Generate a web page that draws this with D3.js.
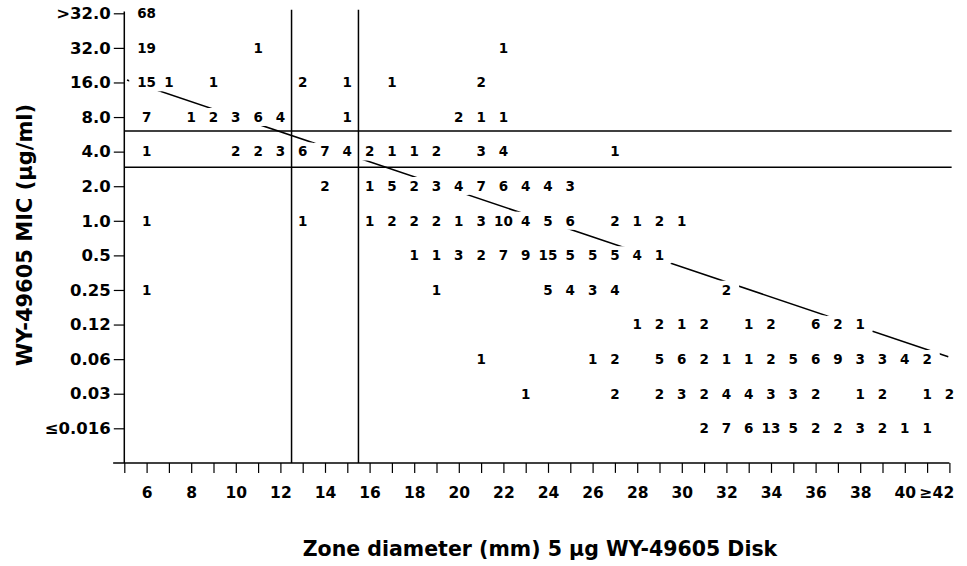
<!DOCTYPE html>
<html><head><meta charset="utf-8">
<script src="https://cdn.jsdelivr.net/npm/d3@7"></script>
<style>
body{margin:0;background:#fff}
text{font-family:"DejaVu Sans",sans-serif;font-weight:bold;fill:#000}
</style>
</head><body><script>
// MIC categories (bottom to top)
const micLabels = ["≤0.016","0.03","0.06","0.12","0.25","0.5","1.0","2.0","4.0","8.0","16.0","32.0",">32.0"];
// Zone diameter labelled ticks
const zoneLabelValues = [6,8,10,12,14,16,18,20,22,24,26,28,30,32,34,36,38,40,42];
const zoneLabelText = ["6","8","10","12","14","16","18","20","22","24","26","28","30","32","34","36","38","40","≥42"];

// counts per MIC row: [zone diameter, number of isolates]
const counts0016 = [[31,2],[32,7],[33,6],[34,13],[35,5],[36,2],[37,2],[38,3],[39,2],[40,1],[41,1]];
const counts003  = [[23,1],[27,2],[29,2],[30,3],[31,2],[32,4],[33,4],[34,3],[35,3],[36,2],[38,1],[39,2],[41,1],[42,2]];
const counts006  = [[21,1],[26,1],[27,2],[29,5],[30,6],[31,2],[32,1],[33,1],[34,2],[35,5],[36,6],[37,9],[38,3],[39,3],[40,4],[41,2]];
const counts012  = [[28,1],[29,2],[30,1],[31,2],[33,1],[34,2],[36,6],[37,2],[38,1]];
const counts025  = [[6,1],[19,1],[24,5],[25,4],[26,3],[27,4],[32,2]];
const counts05   = [[18,1],[19,1],[20,3],[21,2],[22,7],[23,9],[24,15],[25,5],[26,5],[27,5],[28,4],[29,1]];
const counts1    = [[6,1],[13,1],[16,1],[17,2],[18,2],[19,2],[20,1],[21,3],[22,10],[23,4],[24,5],[25,6],[27,2],[28,1],[29,2],[30,1]];
const counts2    = [[14,2],[16,1],[17,5],[18,2],[19,3],[20,4],[21,7],[22,6],[23,4],[24,4],[25,3]];
const counts4    = [[6,1],[10,2],[11,2],[12,3],[13,6],[14,7],[15,4],[16,2],[17,1],[18,1],[19,2],[21,3],[22,4],[27,1]];
const counts8    = [[6,7],[8,1],[9,2],[10,3],[11,6],[12,4],[15,1],[20,2],[21,1],[22,1]];
const counts16   = [[6,15],[7,1],[9,1],[13,2],[15,1],[17,1],[21,2]];
const counts32   = [[6,19],[11,1],[22,1]];
const countsGt32 = [[6,68]];
const rows = [counts0016,counts003,counts006,counts012,counts025,counts05,counts1,counts2,counts4,counts8,counts16,counts32,countsGt32];

// breakpoint lines
const zoneBreakpoints = [12.5, 15.5];       // zone diameter (mm)
const micBreakpoints = [8.6, 7.55];         // position on MIC category axis
const regressionLine = [[5.12,10.07],[41.95,2.07]];

const W = 967, H = 566;
const svg = d3.select("body").append("svg").attr("width",W).attr("height",H);

const x = d3.scaleLinear().domain([5,42]).range([124.3,949.4]);
const y = d3.scaleLinear().domain([0,12]).range([428.3,13.3]);

const pts = [];
rows.forEach((r,i)=>r.forEach(([d,c])=>pts.push({d,c,i})));

const mask = svg.append("defs").append("mask").attr("id","gap")
  .attr("maskUnits","userSpaceOnUse").attr("x",0).attr("y",0).attr("width",W).attr("height",H);
mask.append("rect").attr("width",W).attr("height",H).attr("fill","#fff");

// X axis
const xAxis = svg.append("g").attr("transform",`translate(0,${y(-1)})`)
  .call(d3.axisBottom(x).tickValues(d3.range(5,43)).tickSize(10).tickSizeOuter(0).tickPadding(14)
    .tickFormat(d=>{const k=zoneLabelValues.indexOf(d);return k<0?"":zoneLabelText[k];}));
xAxis.select(".domain").remove();
xAxis.selectAll(".tick line").attr("stroke","#000").attr("stroke-width",1.2);
xAxis.selectAll(".tick text").style("font-size","15.5px").attr("font-family",null).attr("font-size",null)
  .attr("dx",d=>d===42?-13:0);
svg.append("line").attr("x1",x(4.5)).attr("x2",x(42)).attr("y1",y(-1)).attr("y2",y(-1))
  .attr("stroke","#000").attr("stroke-width",1.5);

// Y axis
const yAxis = svg.append("g").attr("transform",`translate(${x(5)},0)`)
  .call(d3.axisLeft(y).tickValues(d3.range(0,13)).tickSize(10.5).tickSizeOuter(0).tickPadding(3)
    .tickFormat(i=>micLabels[i]));
yAxis.select(".domain").remove();
yAxis.selectAll(".tick line").attr("stroke","#000").attr("stroke-width",1.2);
yAxis.selectAll(".tick text").style("font-size","16.5px").attr("font-family",null).attr("font-size",null);
svg.append("line").attr("x1",x(5)).attr("x2",x(5)).attr("y1",y(-1)).attr("y2",y(12.05))
  .attr("stroke","#000").attr("stroke-width",1.5);

// breakpoint lines
svg.selectAll(".vb").data(zoneBreakpoints).join("line").attr("class","vb")
  .attr("x1",d=>x(d)).attr("x2",d=>x(d)).attr("y1",y(-1)).attr("y2",y(12.1))
  .attr("stroke","#000").attr("stroke-width",1.5);
svg.selectAll(".hb").data(micBreakpoints).join("line").attr("class","hb")
  .attr("x1",x(5)).attr("x2",x(42.1)).attr("y1",d=>y(d)).attr("y2",d=>y(d))
  .attr("stroke","#000").attr("stroke-width",1.5);

// regression line
svg.append("path").datum(regressionLine)
  .attr("d",d3.line().x(d=>x(d[0])).y(d=>y(d[1])))
  .attr("stroke","#000").attr("stroke-width",1.5).attr("fill","none")
  .attr("mask","url(#gap)");

// counts
const countTexts = svg.append("g").selectAll("text").data(pts).join("text")
  .attr("x",d=>x(d.d)).attr("y",d=>y(d.i)).attr("dy","0.36em")
  .attr("text-anchor","middle").style("font-size","13.5px")
  .text(d=>d.c);
countTexts.each(function(){
  const b=this.getBBox();
  mask.append("rect").attr("x",b.x-8).attr("y",b.y-1).attr("width",b.width+16).attr("height",b.height+2)
    .attr("rx",4).attr("fill","#000");
});

// axis titles
svg.append("text").attr("x",540).attr("y",556).attr("text-anchor","middle")
  .style("font-size","20.5px").text("Zone diameter (mm) 5 μg WY-49605 Disk");
svg.append("text").attr("transform","translate(32,235) rotate(-90)").attr("text-anchor","middle")
  .style("font-size","21px").text("WY-49605 MIC (μg/ml)");
</script></body></html>
